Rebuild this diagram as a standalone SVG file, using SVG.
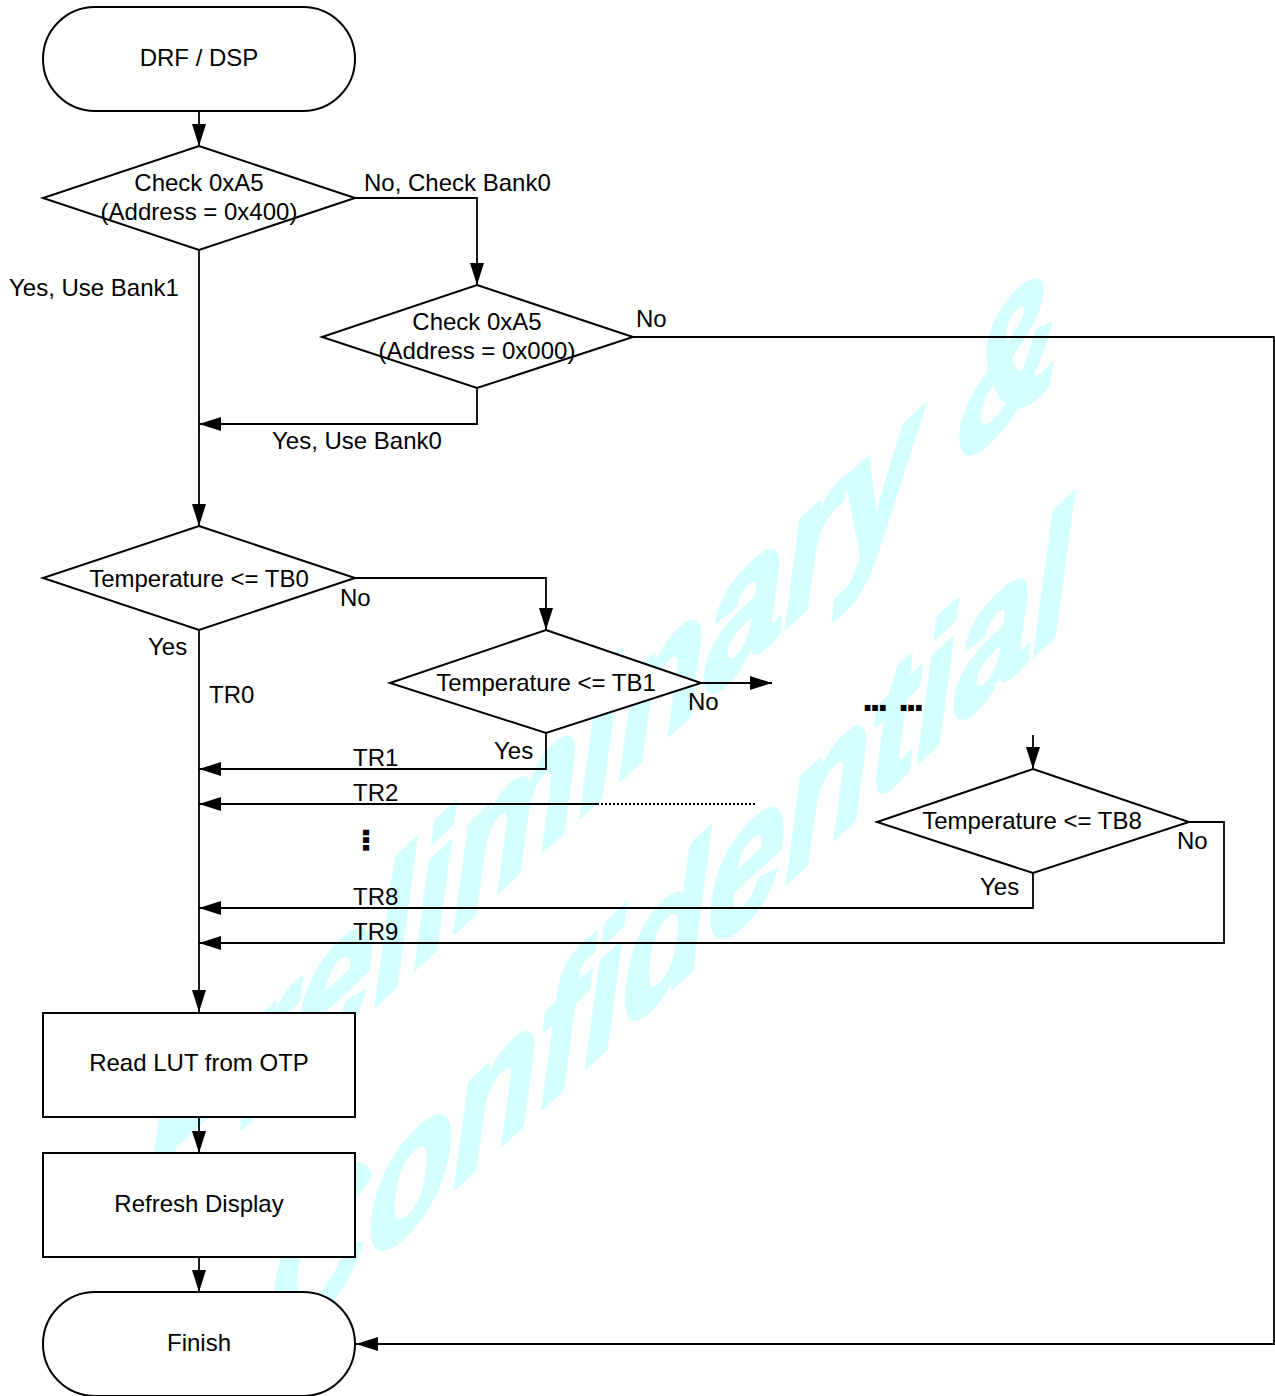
<svg xmlns="http://www.w3.org/2000/svg" width="1275" height="1396" viewBox="0 0 1275 1396">
<style>
text{font-family:"Liberation Sans",Arial,sans-serif;font-size:24px;fill:#000}
.c{text-anchor:middle}
.shape{fill:#fff;stroke:#000;stroke-width:2}
.ln{fill:none;stroke:#000;stroke-width:1.8}
.arr{marker-end:url(#ah)}
.wm{font-family:"Liberation Sans",Arial,sans-serif;font-weight:bold;font-style:italic;fill:#d4ffff;stroke:#d4ffff;stroke-width:4;stroke-linejoin:round}
.wm1{font-size:142px}
.wm2{font-size:139px}
.dots{font-weight:bold;font-size:40px;letter-spacing:-3.5px}
</style>
<defs>
<marker id="ah" markerUnits="userSpaceOnUse" markerWidth="22" markerHeight="14" refX="22" refY="7" orient="auto">
<path d="M0,0 L22,7 L0,14 Z" fill="#000"/>
</marker>
</defs>
<rect width="1275" height="1396" fill="#fff"/>
<g id="watermark">
<text class="wm wm1" transform="matrix(1,-0.92,0,1.25,145,1217)">Preliminary &amp;</text>
<text class="wm wm2" transform="matrix(1,-0.92,0,1.25,268,1360)">Confidential</text>
</g>
<g id="connectors">
<path class="ln arr" d="M199,111 V146"/>
<path class="ln arr" d="M355,198 H477 V285"/>
<path class="ln arr" d="M199,250 V526"/>
<path class="ln arr" d="M477,388 V424 H199"/>
<path class="ln arr" d="M633,337 H1274 V1344 H356"/>
<path class="ln arr" d="M355,578 H546 V630"/>
<path class="ln arr" d="M199,630 V1012"/>
<path class="ln arr" d="M701,683 H772"/>
<path class="ln arr" d="M546,733 V769 H199"/>
<path class="ln arr" d="M597,804 H199"/>
<path class="ln" d="M597,804 H756" stroke-dasharray="2 2" stroke-width="1.5"/>
<path class="ln arr" d="M1033,735 V769"/>
<path class="ln arr" d="M1033,873 V908 H199"/>
<path class="ln arr" d="M1189,822 H1224 V943 H199"/>
<path class="ln arr" d="M199,1117 V1153"/>
<path class="ln arr" d="M199,1258 V1292"/>
</g>
<g id="labels">
<text x="364" y="191">No, Check Bank0</text>
<text x="9" y="296">Yes, Use Bank1</text>
<text x="636" y="327">No</text>
<text x="272" y="449">Yes, Use Bank0</text>
<text x="340" y="606">No</text>
<text x="148" y="655">Yes</text>
<text x="209" y="703">TR0</text>
<text x="688" y="710">No</text>
<text x="494" y="759">Yes</text>
<text x="353" y="766">TR1</text>
<text x="353" y="801">TR2</text>
<text x="353" y="905">TR8</text>
<text x="353" y="940">TR9</text>
<text x="1177" y="849">No</text>
<text x="980" y="895">Yes</text>
<text class="dots" x="862" y="711">...</text>
<text class="dots" x="898" y="711">...</text>
<text class="dots" transform="translate(363,827) rotate(90)">...</text>
</g>
<g id="start">
<rect class="shape" x="43" y="7" width="312" height="104" rx="52" ry="52"/>
<text class="c" x="199" y="66">DRF / DSP</text>
</g>
<g id="check400">
<polygon class="shape" points="199,146 355,198 199,250 43,198"/>
<text class="c" x="199" y="191">Check 0xA5</text>
<text class="c" x="199" y="220">(Address = 0x400)</text>
</g>
<g id="check000">
<polygon class="shape" points="477,285 633,337 477,388 322,337"/>
<text class="c" x="477" y="330">Check 0xA5</text>
<text class="c" x="477" y="359">(Address = 0x000)</text>
</g>
<g id="tb0">
<polygon class="shape" points="199,526 355,578 199,630 43,578"/>
<text class="c" x="199" y="587">Temperature &lt;= TB0</text>
</g>
<g id="tb1">
<polygon class="shape" points="546,630 701,683 546,733 390,683"/>
<text class="c" x="546" y="691">Temperature &lt;= TB1</text>
</g>
<g id="tb8">
<polygon class="shape" points="1033,769 1189,822 1033,873 877,822"/>
<text class="c" x="1032" y="829">Temperature &lt;= TB8</text>
</g>
<g id="readlut">
<rect class="shape" x="43" y="1013" width="312" height="104"/>
<text class="c" x="199" y="1071">Read LUT from OTP</text>
</g>
<g id="refresh">
<rect class="shape" x="43" y="1153" width="312" height="104"/>
<text class="c" x="199" y="1212">Refresh Display</text>
</g>
<g id="finish">
<rect class="shape" x="43" y="1292" width="312" height="104" rx="52" ry="52"/>
<text class="c" x="199" y="1351">Finish</text>
</g>
</svg>
